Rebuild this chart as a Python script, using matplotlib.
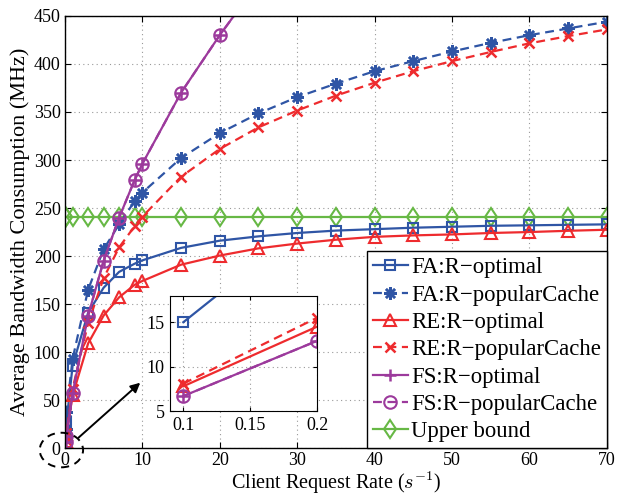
import matplotlib
matplotlib.use("Agg")
import matplotlib.pyplot as plt
from matplotlib.patches import Ellipse
import numpy as np

plt.rcParams['font.family'] = ['Liberation Serif', 'DejaVu Serif']
plt.rcParams['mathtext.fontset'] = 'cm'

# ---------------- data ----------------
rate = [0.1, 0.2, 1, 3, 5, 7, 9, 10, 15, 20, 25, 30, 35, 40, 45, 50, 55, 60, 65, 70]

fa_opt = [15, 27, 86, 141, 167, 183.5, 192, 195.5, 208.5, 216, 220.5, 224, 226.5,
          228, 229.5, 230.5, 231.5, 232, 232.5, 233]
fa_pop = [20, 38, 93, 165, 207, 233, 257, 266, 302, 328, 348.5, 365.5, 379.5,
          392.5, 403, 413, 422, 430, 437, 444]
re_opt = [7.8, 14.5, 55, 109, 138, 157, 170, 174, 191, 200.5, 208, 213, 217,
          220, 221.5, 222.5, 224, 225, 226.3, 227.4]
re_pop = [8.1, 15.5, 62, 130, 177, 209, 231, 241, 282.5, 311.5, 334, 351.5, 367,
          380.5, 392.5, 403, 412.5, 421.5, 429, 436]
fs_opt = [6.7, 12.9, 57, 138, 195, 240, 279, 296, 370, 430, 485, 535, 580,
          620, 655, 690, 720, 750, 775, 800]
fs_pop = fs_opt
upper = [241] * len(rate)

labels = ['FA:R\u2212optimal', 'FA:R\u2212popularCache', 'RE:R\u2212optimal',
          'RE:R\u2212popularCache', 'FS:R\u2212optimal', 'FS:R\u2212popularCache',
          'Upper bound']

BLUE = '#2F55A5'
RED = '#EE2B2E'
PURPLE = '#9C3A9C'
GREEN = '#67B845'

asterisk = (8, 2, 0)

styles = [
    dict(data=fa_opt, color=BLUE, ls='-', marker='s', ms=7.5),
    dict(data=fa_pop, color=BLUE, ls='--', marker=asterisk, ms=9),
    dict(data=re_opt, color=RED, ls='-', marker='^', ms=9),
    dict(data=re_pop, color=RED, ls='--', marker='x', ms=7.5),
    dict(data=fs_opt, color=PURPLE, ls='-', marker='+', ms=9),
    dict(data=fs_pop, color=PURPLE, ls='--', marker='o', ms=9),
    dict(data=upper, color=GREEN, ls='-', marker='d', ms=9.5),
]

fig = plt.figure(figsize=(6.18, 4.99), dpi=100)
ax = fig.add_axes([0.105, 0.102, 0.877, 0.866])

order = [6, 0, 1, 2, 3, 5, 4]
handles = [None] * 7
for i in order:
    s = styles[i]
    ew = 1.8 if s['marker'] in ('x', asterisk, '+') else 1.5
    h, = ax.plot(rate, s['data'], color=s['color'], ls=s['ls'], lw=1.6,
                 marker=s['marker'], ms=s['ms'], mfc='none', mec=s['color'],
                 mew=ew, label=labels[i], dashes=(4, 2.5) if s['ls'] == '--' else (None, None))
    handles[i] = h

ax.set_xlim(0, 70)
ax.set_ylim(0, 450)
ax.set_xticks(np.arange(0, 71, 10))
ax.set_yticks(np.arange(0, 451, 50))
ax.tick_params(direction='in', top=True, right=True, labelsize=13, length=4, pad=3)
ax.grid(True, ls=(0, (1, 3)), color='#999999', lw=0.8)
for sp in ax.spines.values():
    sp.set_linewidth(1.0)
ax.set_xlabel('Client Request Rate ($s^{-1}$)', fontsize=14.5, labelpad=0.5)
ax.set_ylabel('Average Bandwidth Consumption (MHz)', fontsize=16, labelpad=3)

leg = ax.legend(handles=handles, labels=labels, loc='lower right',
                bbox_to_anchor=(1.0, 0.0), borderaxespad=0, fontsize=16.4,
                fancybox=False, edgecolor='black', framealpha=1,
                handlelength=1.55, handletextpad=0.15, labelspacing=0.28,
                borderpad=0.25)
leg.get_frame().set_linewidth(1.0)

# dashed ellipse around the origin and arrow to the inset
ell = Ellipse((-0.45, -2), 5.6, 36, fill=False, ls=(0, (4, 3)), lw=1.4,
              color='black', clip_on=False, zorder=10)
ax.add_patch(ell)
ax.annotate('', xy=(10.0, 70), xytext=(1.5, 9),
            arrowprops=dict(arrowstyle='-|>', color='black', lw=1.4,
                            mutation_scale=14), annotation_clip=False)

# inset
ins = fig.add_axes([0.275, 0.176, 0.238, 0.230])
for i in order:
    s = styles[i]
    ew = 1.8 if s['marker'] in ('x', asterisk, '+') else 1.5
    ins.plot(rate, s['data'], color=s['color'], ls=s['ls'], lw=1.6,
             marker=s['marker'], ms=s['ms'], mfc='none', mec=s['color'], mew=ew,
             dashes=(4, 2.5) if s['ls'] == '--' else (None, None))
ins.set_xlim(0.09, 0.2)
ins.set_ylim(5.0, 17.9)
ins.set_xticks([0.1, 0.15, 0.2])
ins.set_xticklabels(['0.1', '0.15', '0.2'])
ins.set_yticks([5, 10, 15])
ins.tick_params(direction='in', top=True, right=True, labelsize=13, length=3, pad=4)
ins.grid(True, ls=(0, (1, 3)), color='#999999', lw=0.8)

fig.savefig('out.png', dpi=100)
